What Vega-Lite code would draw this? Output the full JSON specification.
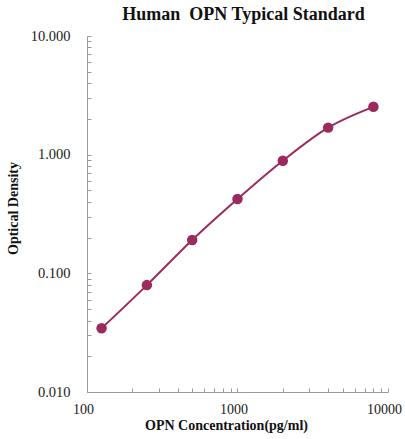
{
  "$schema": "https://vega.github.io/schema/vega-lite/v6.json",
  "autosize": {"type": "none"},
  "padding": {"left": 87, "top": 36, "right": 17, "bottom": 47},
  "width": 301,
  "height": 356,
  "background": "white",
  "title": {
    "text": "Human\u00a0\u00a0OPN Typical Standard",
    "font": "Liberation Serif",
    "fontSize": 18,
    "fontWeight": "bold",
    "color": "#111111",
    "anchor": "middle",
    "offset": 4,
    "dx": 6
  },
  "config": {
    "view": {"stroke": null},
    "axis": {
      "labelFont": "Liberation Serif",
      "labelFontSize": 14.5,
      "labelColor": "#1a1a1a",
      "titleFont": "Liberation Serif",
      "titleFontSize": 14,
      "titleFontWeight": "bold",
      "titleColor": "#111111",
      "domainColor": "#9a9a9a",
      "tickColor": "#9a9a9a",
      "grid": false
    }
  },
  "data": {
    "values": [
      {"conc": 125, "od": 0.0344},
      {"conc": 250, "od": 0.0796},
      {"conc": 500, "od": 0.191},
      {"conc": 1000, "od": 0.423},
      {"conc": 2000, "od": 0.889},
      {"conc": 4000, "od": 1.69},
      {"conc": 8000, "od": 2.53}
    ]
  },
  "encoding": {
    "x": {
      "field": "conc",
      "type": "quantitative",
      "scale": {"type": "log", "domain": [100, 10000], "nice": false},
      "axis": {
        "title": "OPN Concentration(pg/ml)",
        "values": [100, 200, 300, 400, 500, 600, 700, 800, 900, 1000, 2000, 3000, 4000, 5000, 6000, 7000, 8000, 9000, 10000],
        "labelExpr": "indexof([100,1000,10000], datum.value) >= 0 ? format(datum.value, 'd') : ''",
        "tickSize": -4,
        "labelFontSize": 14,
        "labelOffset": -4,
        "labelPadding": 14,
        "titlePadding": 2,
        "titleX": 139,
        "labelFlush": false,
        "labelOverlap": false
      }
    },
    "y": {
      "field": "od",
      "type": "quantitative",
      "scale": {"type": "log", "domain": [0.01, 10], "nice": false},
      "axis": {
        "title": "Optical Density",
        "values": [0.01, 0.02, 0.03, 0.04, 0.05, 0.06, 0.07, 0.08, 0.09, 0.1, 0.2, 0.3, 0.4, 0.5, 0.6, 0.7, 0.8, 0.9, 1, 2, 3, 4, 5, 6, 7, 8, 9, 10],
        "labelExpr": "indexof([0.01,0.1,1,10], datum.value) >= 0 ? format(datum.value, '.3f') : ''",
        "tickSize": -4,
        "labelPadding": 21,
        "titlePadding": 10,
        "titleY": 172,
        "labelFlush": false,
        "labelOverlap": false
      }
    }
  },
  "layer": [
    {
      "mark": {"type": "line", "color": "#9b2a5f", "strokeWidth": 2, "interpolate": "monotone"}
    },
    {
      "mark": {"type": "point", "filled": true, "color": "#9b2a5f", "size": 110, "opacity": 1}
    }
  ]
}
